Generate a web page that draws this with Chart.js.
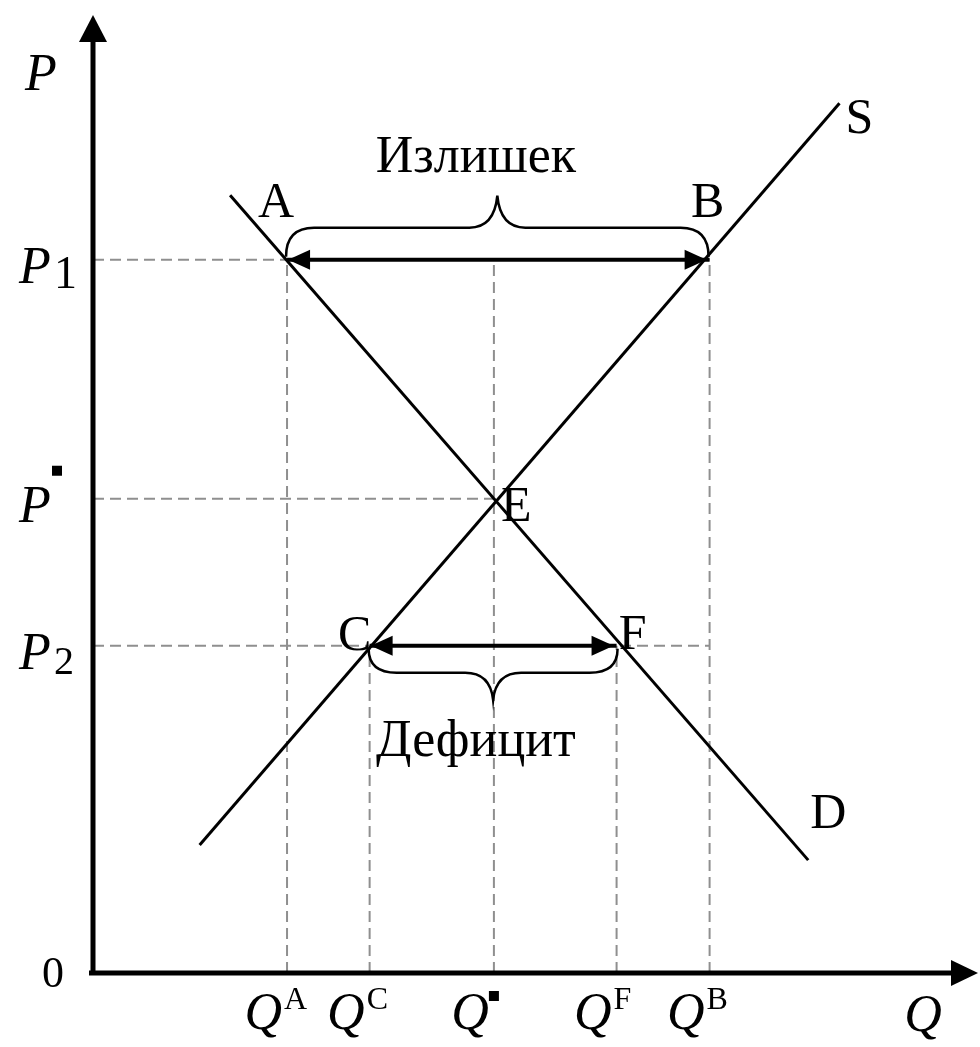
<!DOCTYPE html>
<html>
<head>
<meta charset="utf-8">
<script src="https://cdn.jsdelivr.net/npm/chart.js@4"></script>
<style>
  body { margin: 0; background: #fff; }
  #wrap { width: 980px; height: 1047px; }
</style>
</head>
<body>
<div id="wrap"><canvas id="chart"></canvas></div>
<script>
// quantities on the Q axis and their superscripts
const qValues = [2.42, 3.45, 5.0, 6.53, 7.69];
const qMarks = ['A', 'C', '▪', 'F', 'B'];
// price levels and their indices
const pValues = [7.52, 5.0, 3.45];
const pMarks = ['1', '▪', '2'];
// supply and demand lines (end points)
const supplyQ = [1.33, 9.31];
const supplyP = [1.35, 9.17];
const demandQ = [1.71, 8.92];
const demandP = [8.20, 1.19];

const [qA, qC, qE, qF, qB] = qValues;
const [p1, pE, p2] = pValues;

const SERIF = "'Liberation Serif', 'DejaVu Serif', serif";
const GREY = '#8f8f8f';

// order: smaller value is drawn on top
const guide = (pts) => ({
  data: pts,
  showLine: true,
  borderColor: GREY,
  borderWidth: 2,
  borderDash: [11, 6],
  pointRadius: 0,
  order: 3,
});
const solid = (pts, w, order) => ({
  data: pts,
  showLine: true,
  borderColor: '#000',
  borderWidth: w,
  pointRadius: 0,
  order,
});

const datasets = [
  // horizontal dashed lines
  guide([{ x: 0, y: p1 }, { x: qB, y: p1 }]),
  guide([{ x: 0, y: pE }, { x: qE, y: pE }]),
  guide([{ x: 0, y: p2 }, { x: qB, y: p2 }]),
  // vertical dashed lines
  guide([{ x: qA, y: 0 }, { x: qA, y: p1 }]),
  guide([{ x: qC, y: 0 }, { x: qC, y: p2 }]),
  guide([{ x: qE, y: 0 }, { x: qE, y: p1 }]),
  guide([{ x: qF, y: 0 }, { x: qF, y: p2 }]),
  guide([{ x: qB, y: 0 }, { x: qB, y: p1 }]),
  // supply and demand
  solid(supplyQ.map((q, i) => ({ x: q, y: supplyP[i] })), 3, 2),
  solid(demandQ.map((q, i) => ({ x: q, y: demandP[i] })), 3, 2),
  // surplus / shortage arrows
  solid([{ x: qA, y: p1 }, { x: qB, y: p1 }], 4, 1),
  solid([{ x: qC, y: p2 }, { x: qF, y: p2 }], 4, 1),
];

// Оси, стрелки, скобки и подписи
const diagram = {
  id: 'diagram',
  afterDatasetsDraw(chart) {
    const { ctx, chartArea: { top, right } } = chart;
    const { x, y } = chart.scales;
    const px = (v) => x.getPixelForValue(v);
    const py = (v) => y.getPixelForValue(v);
    const x0 = px(0);
    const y0 = py(0);

    ctx.save();
    ctx.fillStyle = '#000';
    ctx.strokeStyle = '#000';

    // axes
    ctx.lineWidth = 5;
    ctx.beginPath();
    ctx.moveTo(x0, y0 + 2);
    ctx.lineTo(x0, top + 24);
    ctx.moveTo(x0 - 4, y0);
    ctx.lineTo(right - 20, y0);
    ctx.stroke();
    ctx.beginPath();
    ctx.moveTo(x0, top);
    ctx.lineTo(x0 - 14, top + 27);
    ctx.lineTo(x0 + 14, top + 27);
    ctx.closePath();
    ctx.fill();
    ctx.beginPath();
    ctx.moveTo(right + 3, y0);
    ctx.lineTo(right - 24, y0 - 13);
    ctx.lineTo(right - 24, y0 + 13);
    ctx.closePath();
    ctx.fill();

    // arrowheads
    const head = (tx, ty, dir) => {
      ctx.beginPath();
      ctx.moveTo(tx, ty);
      ctx.lineTo(tx - dir * 22, ty - 10);
      ctx.lineTo(tx - dir * 22, ty + 10);
      ctx.closePath();
      ctx.fill();
    };
    head(px(qA) + 1, py(p1), -1);
    head(px(qB) - 3, py(p1), 1);
    head(px(qC) + 1, py(p2), -1);
    head(px(qF) - 3, py(p2), 1);

    // curly braces
    const brace = (xa, xb, yEnd, yMid, yTip) => {
      const xm = (xa + xb) / 2;
      ctx.beginPath();
      ctx.moveTo(xa, yEnd);
      ctx.quadraticCurveTo(xa, yMid, xa + 28, yMid);
      ctx.lineTo(xm - 28, yMid);
      ctx.quadraticCurveTo(xm - 3, yMid, xm, yTip);
      ctx.quadraticCurveTo(xm + 3, yMid, xm + 28, yMid);
      ctx.lineTo(xb - 28, yMid);
      ctx.quadraticCurveTo(xb, yMid, xb, yEnd);
      ctx.stroke();
    };
    ctx.lineWidth = 2.5;
    brace(px(qA) - 1, px(qB) - 1, py(p1) - 3, py(p1) - 32, py(p1) - 64);
    brace(px(qC) - 1, px(qF) + 1, py(p2) + 3, py(p2) + 27, py(p2) + 54);

    // text
    const text = (str, tx, ty, size, italic, align) => {
      ctx.font = `${italic ? 'italic ' : ''}${size}px ${SERIF}`;
      ctx.textAlign = align || 'center';
      ctx.textBaseline = 'alphabetic';
      ctx.fillText(str, tx, ty);
    };

    text('Излишек', px(qE) - 18, py(p1) - 88, 52);
    text('Дефицит', px(qE) - 18, py(p2) + 110, 52);

    text('A', px(qA) - 11, py(p1) - 43, 50);
    text('B', px(qB) - 2, py(p1) - 43, 50);
    text('E', px(qE) + 7, py(pE) + 22, 50, false, 'left');
    text('C', px(qC) - 15, py(p2) + 4, 50);
    text('F', px(qF) + 16, py(p2) + 3, 50);
    text('S', px(supplyQ[1]) + 20, py(supplyP[1]) + 30, 50);
    text('D', px(demandQ[1]) + 20, py(demandP[1]) - 32, 50);

    // axis titles
    text('P', x0 - 52, top + 75, 52, true);
    text('Q', right - 52, y0 + 58, 52, true);
    text('0', x0 - 40, y0 + 14, 44);

    // price labels
    pValues.forEach((v, i) => {
      const yy = py(v);
      text('P', x0 - 58, yy + 23, 52, true);
      const m = pMarks[i];
      if (m === '▪') {
        ctx.fillRect(x0 - 41, yy - 33, 10, 10);
      } else {
        text(m, x0 - 39, yy + 28, m === '1' ? 46 : 40, false, 'left');
      }
    });

    // quantity labels
    qValues.forEach((v, i) => {
      const xx = px(v);
      text('Q', xx - 5, y0 + 56, 52, true, 'right');
      const m = qMarks[i];
      if (m === '▪') {
        ctx.fillRect(xx - 5, y0 + 18, 10, 10);
      } else {
        text(m, xx - 3, y0 + 36, 32, false, 'left');
      }
    });

    ctx.restore();
  },
};

new Chart(document.getElementById('chart'), {
  type: 'scatter',
  data: { datasets },
  options: {
    responsive: true,
    maintainAspectRatio: false,
    animation: false,
    devicePixelRatio: 1,
    layout: { padding: { left: 93, right: 5, top: 15, bottom: 74 } },
    plugins: { legend: { display: false }, tooltip: { enabled: false } },
    scales: {
      x: { type: 'linear', min: 0, max: 11, display: false },
      y: { type: 'linear', min: 0, max: 10.1, display: false },
    },
  },
  plugins: [diagram],
});
</script>
</body>
</html>
